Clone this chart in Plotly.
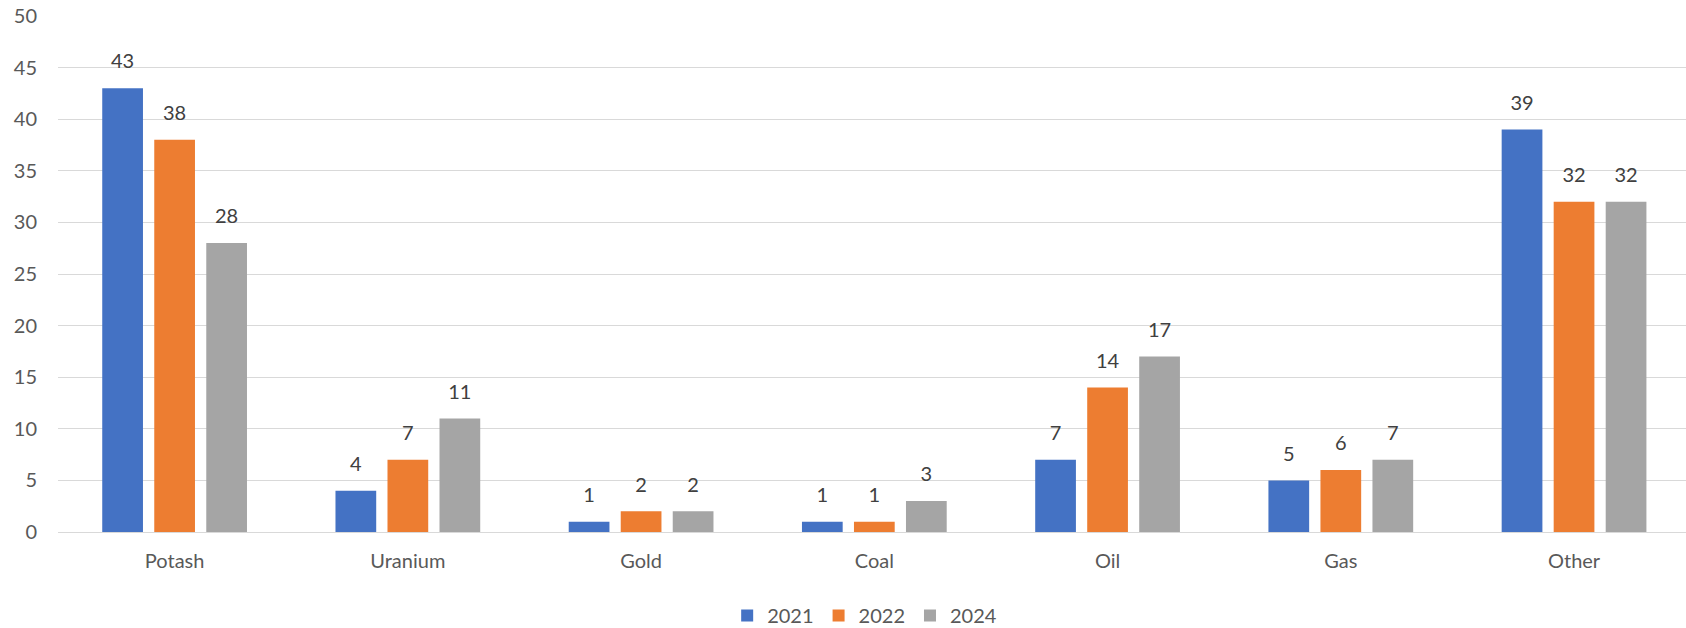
import plotly.graph_objects as go

categories = ["Potash", "Uranium", "Gold", "Coal", "Oil", "Gas", "Other"]
years = ["2021", "2022", "2024"]
values_2021 = [43, 4, 1, 1, 7, 5, 39]
values_2022 = [38, 7, 2, 1, 14, 6, 32]
values_2024 = [28, 11, 2, 3, 17, 7, 32]
colors = ["#4472C4", "#ED7D31", "#A5A5A5"]
y_ticks = [0, 5, 10, 15, 20, 25, 30, 35, 40, 45, 50]

series = [values_2021, values_2022, values_2024]
FONT = "Lato"

fig = go.Figure()
for name, vals, col in zip(years, series, colors):
    fig.add_trace(go.Bar(
        x=categories, y=vals, name=name, marker_color=col,
        marker_line_width=0, offsetgroup=name, alignmentgroup="a",
    ))
for name, vals in zip(years, series):
    fig.add_trace(go.Scatter(
        x=categories, y=vals, mode="markers+text", text=[str(v) for v in vals],
        textposition="top center", marker=dict(size=22, opacity=0),
        textfont=dict(family=FONT, size=20, color="#404040"),
        offsetgroup=name, alignmentgroup="a", orientation="v",
        showlegend=False, hoverinfo="skip", cliponaxis=False,
    ))

fig.update_layout(
    width=1686, height=628,
    margin=dict(l=58, r=0, t=16, b=96, autoexpand=False),
    paper_bgcolor="white", plot_bgcolor="white",
    barmode="group", bargap=0.331, bargroupgap=0.217,
    scattermode="group", scattergap=0.331,
    font=dict(family=FONT, size=20, color="#595959"),
    showlegend=True,
    legend=dict(orientation="h", x=0.4955, xanchor="center", y=-0.162, yanchor="middle",
                font=dict(family=FONT, size=20, color="#595959"), traceorder="normal"),
    xaxis=dict(type="category", range=[-0.5, 6.48], showgrid=False, showline=False,
               zeroline=False, ticks="", ticklabelstandoff=15,
               tickfont=dict(family=FONT, size=20, color="#595959")),
    yaxis=dict(range=[0, 50], tickvals=y_ticks, showgrid=True, gridcolor="#D9D9D9",
               gridwidth=1.3, zeroline=True, zerolinecolor="#D9D9D9", zerolinewidth=1.3,
               showline=False, ticks="", ticklabelstandoff=20,
               tickfont=dict(family=FONT, size=20, color="#595959")),
)

fig.write_html("out.html")
